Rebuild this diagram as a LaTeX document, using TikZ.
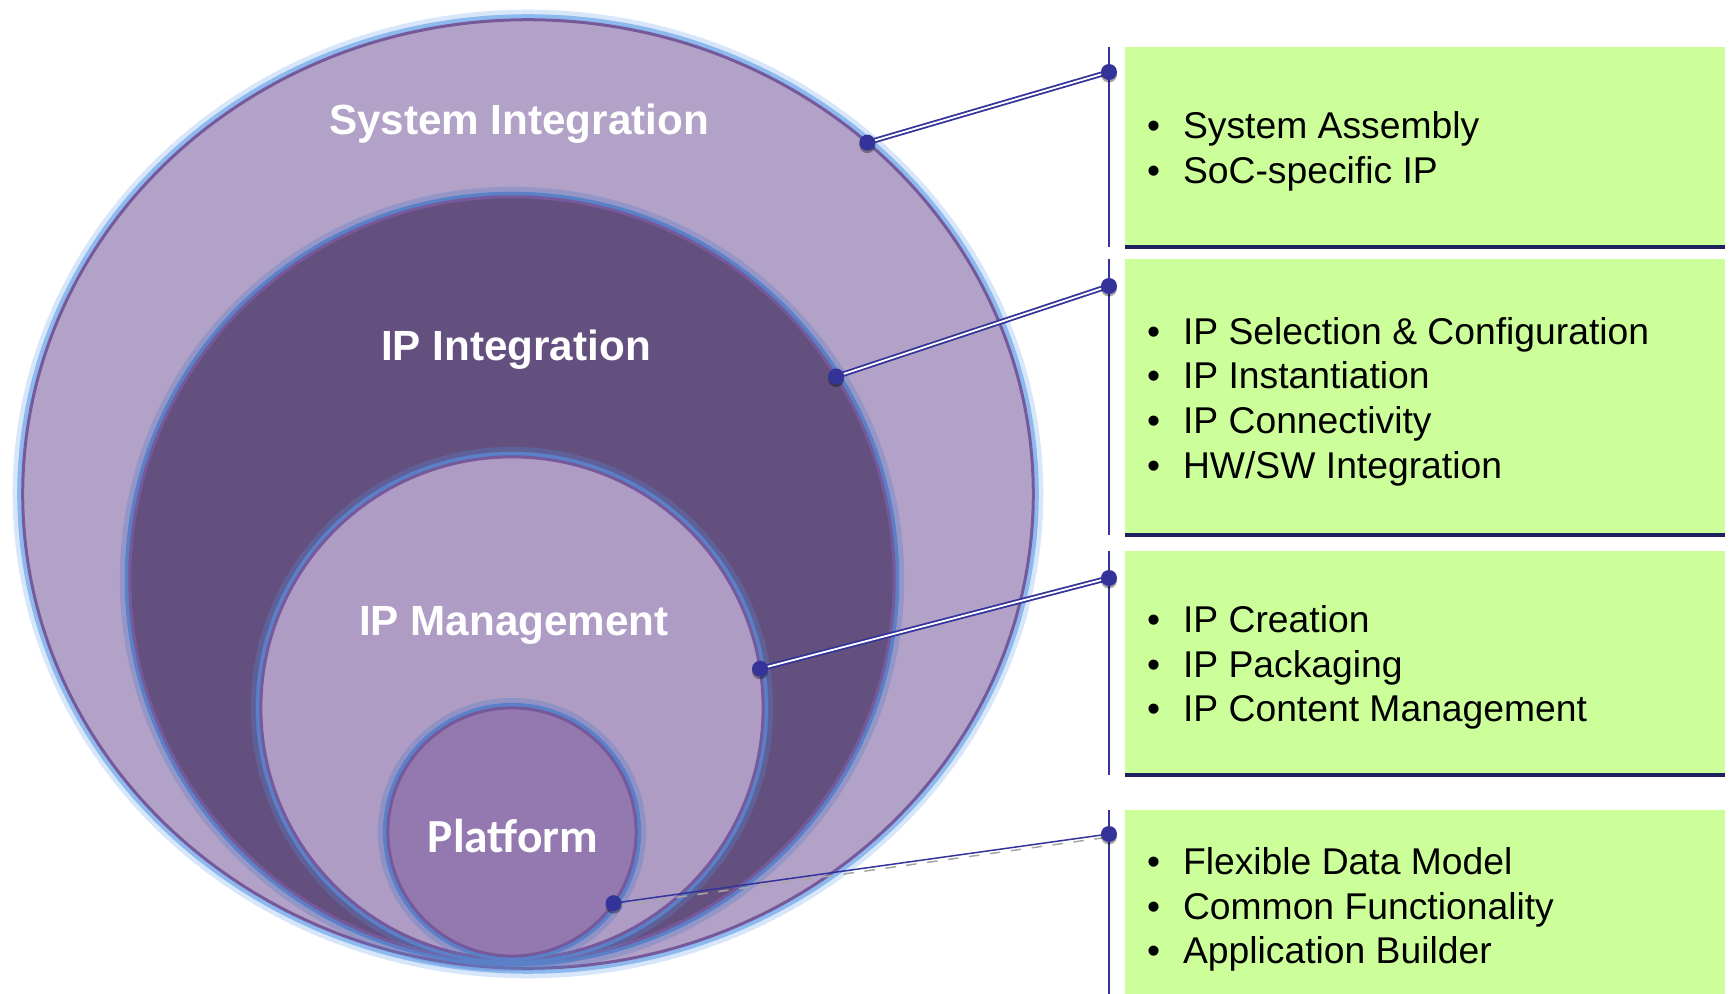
\documentclass[tikz,border=0pt]{standalone}
\usepackage{fontspec}
\setmainfont{Liberation Sans}
\newfontfamily\platformfont{Carlito}
\usetikzlibrary{shapes.geometric}
\definecolor{ringlight}{HTML}{B3A2C7}
\definecolor{ringdark}{HTML}{64507F}
\definecolor{ringmid}{HTML}{AE9CC5}
\definecolor{ringcore}{HTML}{9479B0}
\definecolor{ringedge}{HTML}{76599B}
\definecolor{glowsoft}{HTML}{8DB9EE}
\definecolor{glowdeep}{HTML}{5A80C8}
\definecolor{boxgreen}{HTML}{CCFF99}
\definecolor{boxnavy}{HTML}{1F2060}
\definecolor{linknavy}{HTML}{333399}
\newcommand{\itm}[1]{\makebox[0.36cm][l]{\textbullet}#1}

\begin{document}
\begin{tikzpicture}[x=0.01cm,y=-0.01cm]
	\tikzstyle{every node}=[outer sep=0pt]
	\tikzstyle{ring}=[draw=ringedge,line width=0.03cm]
	\tikzstyle{softglow}=[preaction={draw=glowsoft,opacity=0.35,line width=0.2cm},preaction={draw=glowsoft,line width=0.11cm}]
	\tikzstyle{deepglow}=[preaction={draw=glowdeep,opacity=0.35,line width=0.2cm},preaction={draw=glowdeep,line width=0.1cm}]
	\tikzstyle{ringlabel}=[text=white,font=\bfseries\fontsize{12}{14}\selectfont]
	\tikzstyle{listbox}=[rectangle,fill=boxgreen,minimum width=6cm,anchor=north west]
	\tikzstyle{listtext}=[anchor=west,align=left,inner sep=0pt,font=\fontsize{10.6}{12.7}\selectfont]
	\tikzstyle{boxrule}=[boxnavy,line width=0.04cm]
	\tikzstyle{rail}=[linknavy,line width=0.02cm]
	\tikzstyle{link}=[draw=linknavy,double=white,line width=0.018cm,double distance=0.018cm]
	\useasboundingbox (0,0) rectangle (1729,994);

	% rings
	\node[ellipse,ring,softglow,fill=ringlight,minimum width=10.1cm,minimum height=9.48cm] (sysint) at (528,494) {};
	\node[circle,ring,deepglow,fill=ringdark,minimum size=7.64cm] (ipint) at (512,579) {};
	\node[circle,ring,deepglow,fill=ringmid,minimum size=5.02cm] (ipman) at (512,708) {};
	\node[circle,ring,deepglow,fill=ringcore,minimum size=2.48cm] (platform) at (512,832) {};

	\node[ringlabel] (sysintlabel) at (519,124) {System Integration};
	\node[ringlabel] (ipintlabel) at (516,350) {IP Integration};
	\node[ringlabel] (ipmanlabel) at (514,625) {IP Management};
	\node[ringlabel,font=\platformfont\bfseries\fontsize{13.5}{16}\selectfont] (platformlabel) at (513,836) {Platform};

	% boxes
	\node[listbox,minimum height=2cm] (box1) at (1125,47) {};
	\node[listbox,minimum height=2.76cm] (box2) at (1125,259) {};
	\node[listbox,minimum height=2.24cm] (box3) at (1125,551) {};
	\node[listbox,minimum height=1.9cm] (box4) at (1125,810) {};
	\foreach \b in {box1,box2,box3}
		\draw[boxrule] (\b.south west) -- (\b.south east);

	\node[listtext] (list1) at ([xshift=0.22cm,yshift=-0.045cm]box1.west) {\itm{System Assembly}\\\itm{SoC-specific IP}};
	\node[listtext] (list2) at ([xshift=0.22cm,yshift=-0.045cm]box2.west) {\itm{IP Selection \& Configuration}\\\itm{IP Instantiation}\\\itm{IP Connectivity}\\\itm{HW/SW Integration}};
	\node[listtext] (list3) at ([xshift=0.22cm,yshift=-0.045cm]box3.west) {\itm{IP Creation}\\\itm{IP Packaging}\\\itm{IP Content Management}};
	\node[listtext] (list4) at ([xshift=0.22cm,yshift=-0.045cm]box4.west) {\itm{Flexible Data Model}\\\itm{Common Functionality}\\\itm{Application Builder}};

	% rails and links
	\foreach \b in {box1,box2,box3,box4}
		\draw[rail] ([xshift=-0.16cm]\b.north west) -- ([xshift=-0.16cm]\b.south west);

	\coordinate (b1) at ([xshift=-0.16cm,yshift=-0.25cm]box1.north west);
	\coordinate (b2) at ([xshift=-0.16cm,yshift=-0.27cm]box2.north west);
	\coordinate (b3) at ([xshift=-0.16cm,yshift=-0.27cm]box3.north west);
	\coordinate (b4) at ([xshift=-0.16cm,yshift=-0.24cm]box4.north west);
	\coordinate (c1) at (sysint.46.7);
	\coordinate (c2) at (ipint.32.3);
	\coordinate (c3) at (ipman.9.9);
	\coordinate (c4) at (platform.-35.8);

	\draw[link] (c1) -- (b1);
	\draw[link] (c2) -- (b2);
	\draw[link] (c3) -- (b3);
	\draw[gray!70,dashed,line width=0.015cm] ([yshift=-0.03cm]c4) -- ([yshift=-0.03cm]b4);
	\draw[linknavy,line width=0.015cm] (c4) -- (b4);

	\foreach \p in {c1,b1,c2,b2,c3,b3,c4,b4}{
		\fill[black,opacity=0.35] ([yshift=-0.025cm]\p) circle (0.08cm);
		\fill[linknavy] (\p) circle (0.08cm);
	}
\end{tikzpicture}
\end{document}
